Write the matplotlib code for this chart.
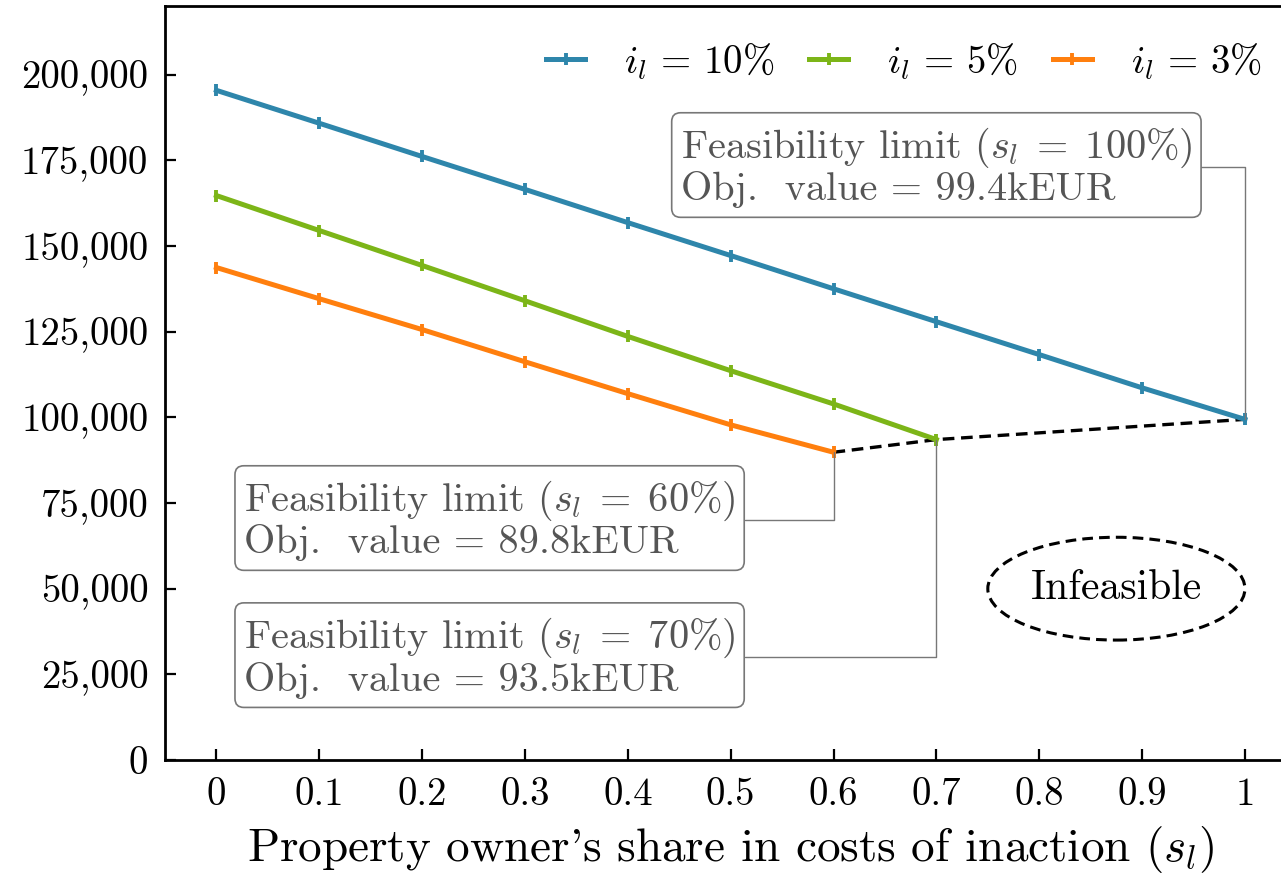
import numpy as np
import matplotlib
matplotlib.use("Agg")
import matplotlib.pyplot as plt
from matplotlib.patches import Ellipse
from matplotlib.ticker import FuncFormatter, MultipleLocator

# LaTeX-like look
plt.rcParams['font.family'] = 'serif'
plt.rcParams['font.serif'] = ['cmr10']
plt.rcParams['mathtext.fontset'] = 'cm'
plt.rcParams['axes.formatter.use_mathtext'] = True

# share of property owner in costs of inaction
share = [0.0, 0.1, 0.2, 0.3, 0.4, 0.5, 0.6, 0.7, 0.8, 0.9, 1.0]

# objective value per interest rate (feasible range only)
obj_10 = [195400, 185800, 176100, 166500, 156800, 147200, 137500, 127900, 118300, 108600, 99400]
obj_5 = [164700, 154500, 144300, 134000, 123600, 113600, 103900, 93500]
obj_3 = [143700, 134600, 125600, 116200, 106900, 97800, 89800]

series = [
    (r'$i_l\,=\,10\%$', obj_10, '#2E86AB'),
    (r'$i_l\,=\,5\%$', obj_5, '#7CB518'),
    (r'$i_l\,=\,3\%$', obj_3, '#FF7F0E'),
]

# feasibility limits: share, objective value
limit_share = [0.6, 0.7, 1.0]
limit_value = [89800, 93500, 99400]

fig = plt.figure(figsize=(6.405, 4.37), dpi=200)
ax = fig.add_axes([0.1288, 0.1304, 0.8832, 0.8627])

for label, vals, col in series:
    ax.plot(share[:len(vals)], vals, color=col, lw=1.8, marker='|',
            ms=4, mew=1.4, label=label)

ax.plot(limit_share, limit_value, color='black', ls=(0, (3.5, 2)), lw=1.2, zorder=1)

box = dict(boxstyle='round,pad=0.22', fc='white', ec='#777777', lw=0.6)
arrow = dict(arrowstyle='-', connectionstyle='angle,angleA=0,angleB=90,rad=0',
             color='#777777', lw=0.5, shrinkA=0, shrinkB=0)

notes = [
    (1.0, 99400, 0.70, 173000, '100', '99.4'),
    (0.6, 89800, 0.2656, 70000, '60', '89.8'),
    (0.7, 93500, 0.2656, 30000, '70', '93.5'),
]
for px, py, tx, ty, pct, val in notes:
    txt = ('Feasibility limit ($s_l\\;=\\;' + pct + '\\%$)\n'
           'Obj.  value = ' + val + 'kEUR')
    ax.annotate(txt, xy=(px, py), xytext=(tx, ty), ha='center', va='center',
                multialignment='left', fontsize=14.5, color='#555555',
                linespacing=1.05, bbox=box, arrowprops=arrow)

ax.add_patch(Ellipse((0.875, 50000), 0.25, 30000, fill=False, ec='black',
                     ls=(0, (3.5, 2)), lw=1.1))
ax.text(0.875, 50000, 'Infeasible', ha='center', va='center', fontsize=15)

ax.set_xlim(-0.05, 1.05)
ax.set_ylim(0, 220000)
ax.xaxis.set_major_locator(MultipleLocator(0.1))
ax.yaxis.set_major_locator(MultipleLocator(25000))
ax.xaxis.set_major_formatter(FuncFormatter(lambda v, p: '%g' % round(v, 2)))
ax.yaxis.set_major_formatter(FuncFormatter(lambda v, p: '{:,.0f}'.format(v)))
ax.tick_params(direction='in', length=4, width=0.8, labelsize=14, pad=6)
for s in ax.spines.values():
    s.set_linewidth(1.0)

ax.set_xlabel("Property owner's share in costs of inaction ($s_l$)", fontsize=17, labelpad=4)

ax.legend(loc='upper right', ncol=3, frameon=False, fontsize=14,
          handlelength=1.0, handletextpad=1.0, columnspacing=0.9)

fig.savefig('out.png', dpi=200)
